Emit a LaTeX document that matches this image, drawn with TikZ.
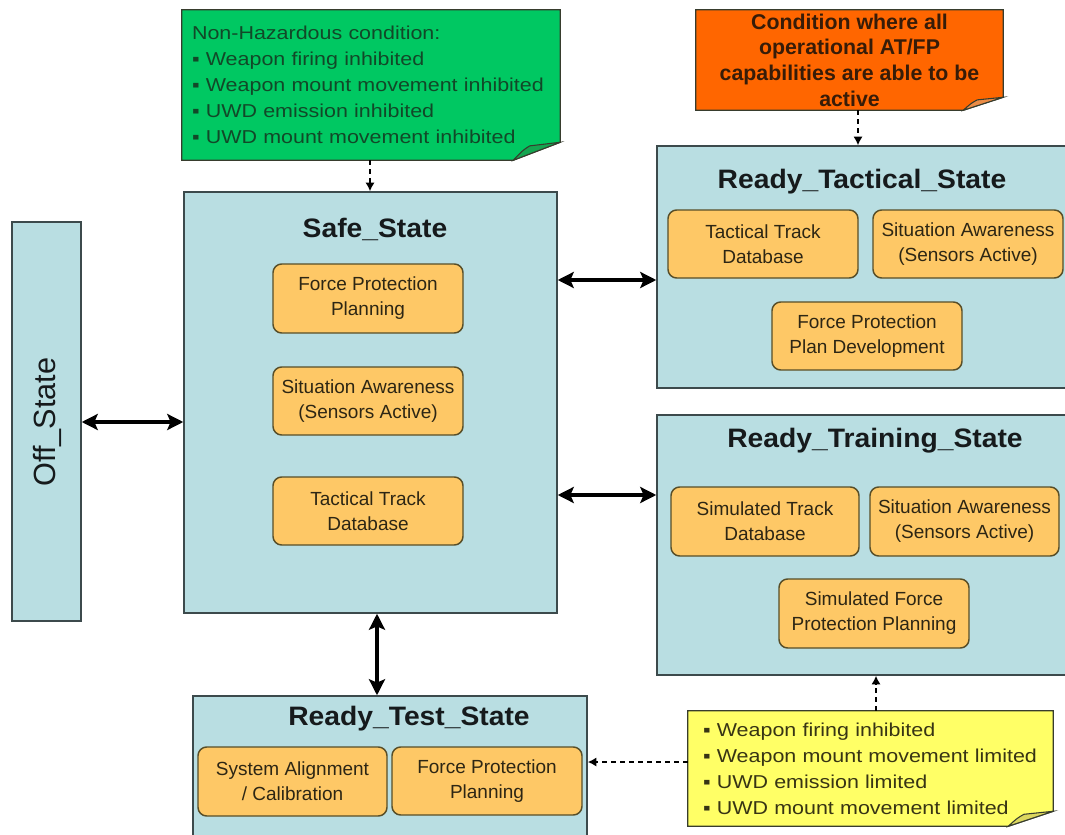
\documentclass[tikz,border=0pt]{standalone}
\usepackage{fontspec}
\setmainfont{Liberation Sans}
\newfontfamily\notefam{Liberation Sans}[FakeStretch=1.15]
\newfontfamily\titlefam{Liberation Sans}[FakeStretch=1.06]
\usetikzlibrary{arrows.meta,backgrounds}
\definecolor{stfill}{RGB}{185,222,226}
\definecolor{stbd}{RGB}{60,74,76}
\definecolor{acfill}{RGB}{254,200,102}
\definecolor{acbd}{RGB}{88,78,40}
\definecolor{actext}{RGB}{45,38,20}
\definecolor{titlec}{RGB}{22,26,28}
\definecolor{notebd}{RGB}{55,60,45}
\definecolor{grfill}{RGB}{0,200,98}
\definecolor{grfold}{RGB}{20,165,80}
\definecolor{grtext}{RGB}{18,72,40}
\definecolor{orfill}{RGB}{255,102,0}
\definecolor{orfold}{RGB}{235,140,70}
\definecolor{ortext}{RGB}{55,28,8}
\definecolor{yefill}{RGB}{255,255,102}
\definecolor{yefold}{RGB}{220,215,95}
\definecolor{yetext}{RGB}{55,52,20}
\def\px{*0.75pt}
\newcommand\notepoly[5]{%
  \filldraw[fill=#2, draw=notebd, line width=0.9pt] (#1.north west) -- (#1.north east) -- ([yshift=#5]#1.south east) -- ([xshift=-#4]#1.south east) -- (#1.south west) -- cycle;
  \filldraw[fill=#3, draw=notebd, line width=0.8pt] ([xshift=-#4]#1.south east) .. controls ([xshift=-0.8*#4, yshift=0.55*#5]#1.south east) .. ([xshift=-0.65*#4, yshift=0.8*#5]#1.south east) -- ([yshift=#5]#1.south east) -- cycle;
}
\begin{document}
\begin{tikzpicture}[x=0.75pt,y=-0.75pt,
  statebox/.style={draw=stbd, fill=stfill, line width=1.1pt, inner sep=0pt},
  actbox/.style={draw=acbd, fill=acfill, line width=1.1pt, rounded corners=6.5pt, align=center, text=actext, inner sep=0pt, font=\fontsize{14.25pt}{18.75pt}\selectfont},
  titletext/.style={font=\titlefam\bfseries\fontsize{20pt}{24pt}\selectfont, anchor=base, text=titlec, inner sep=0pt},
  notetext/.style={inner ysep=0pt, align=left, font=\notefam\fontsize{14pt}{19.5pt}\selectfont},
  biarrow/.style={line width=2.6pt, arrows={Stealth[length=12pt,width=12pt,inset=2.5pt]-Stealth[length=12pt,width=12pt,inset=2.5pt]}},
  notelink/.style={line width=1.3pt, dash pattern=on 3.75pt off 3pt, -{Latex[length=6.5pt,width=7pt]}}
]
\useasboundingbox (0,0) rectangle (1065,835);
\clip (0,0) rectangle (1065,835);

% state boxes
\node[statebox, minimum width=69\px, minimum height=399\px] (off) at (46.5,421.5) {};
\node[statebox, minimum width=373\px, minimum height=421\px] (safe) at (370.5,402.5) {};
\node[statebox, minimum width=420\px, minimum height=242\px] (tac) at (867,267) {};
\node[statebox, minimum width=420\px, minimum height=260\px] (trn) at (867,545) {};
\node[statebox, minimum width=394\px, minimum height=160\px] (tst) at (390,776) {};

% titles
\node[font=\fontsize{23pt}{27pt}\selectfont, rotate=90, text=titlec] (offlbl) at (47,422) {Off\_State};
\node[titletext] (safet) at (375,237) {Safe\_State};
\node[titletext] (tact) at (862,188) {Ready\_Tactical\_State};
\node[titletext] (trnt) at (875,447) {Ready\_Training\_State};
\node[titletext] (tstt) at (409,725) {Ready\_Test\_State};

% activity boxes
\node[actbox, minimum width=190\px, minimum height=69\px] (s1) at (368,298.5) {Force Protection\\Planning};
\node[actbox, minimum width=190\px, minimum height=68\px] (s2) at (368,401) {Situation Awareness\\(Sensors Active)};
\node[actbox, minimum width=190\px, minimum height=68\px] (s3) at (368,511) {Tactical Track\\Database};

\node[actbox, minimum width=190\px, minimum height=68\px] (t1) at (763,244) {Tactical Track\\Database};
\node[actbox, minimum width=190\px, minimum height=68\px] (t2) at (968,244) {Situation Awareness\\(Sensors Active)};
\node[actbox, minimum width=190\px, minimum height=68\px] (t3) at (867,336) {Force Protection\\Plan Development};

\node[actbox, minimum width=188\px, minimum height=69\px] (r1) at (765,521.5) {Simulated Track\\Database};
\node[actbox, minimum width=189\px, minimum height=69\px] (r2) at (964.5,521.5) {Situation Awareness\\(Sensors Active)};
\node[actbox, minimum width=190\px, minimum height=69\px] (r3) at (874,613.5) {Simulated Force\\Protection Planning};

\node[actbox, minimum width=189\px, minimum height=69\px] (e1) at (292.5,781.5) {System Alignment\\/ Calibration};
\node[actbox, minimum width=190\px, minimum height=68\px] (e2) at (487,781) {Force Protection\\Planning};

% notes
\node[notetext, text=grtext, text width=268.5pt, inner xsep=7.5pt, minimum height=150\px] (gn) at (371,85)
  {Non-Hazardous condition:\\▪ Weapon firing inhibited\\▪ Weapon mount movement inhibited\\▪ UWD emission inhibited\\▪ UWD mount movement inhibited};
\node[inner sep=0pt, minimum width=307\px, minimum height=100\px, align=center, text=ortext, font=\bfseries\fontsize{16pt}{19.3pt}\selectfont] (on) at (849.5,60)
  {Condition where all\\operational AT/FP\\capabilities are able to be\\active};
\node[notetext, text=yetext, text width=251.25pt, inner xsep=11.25pt, minimum height=115\px] (yn) at (870.5,768.5)
  {▪ Weapon firing inhibited\\▪ Weapon mount movement limited\\▪ UWD emission limited\\▪ UWD mount movement limited};

\begin{scope}[on background layer]
  \notepoly{gn}{grfill}{grfold}{35.25pt}{13.5pt}
  \notepoly{on}{orfill}{orfold}{30pt}{9.75pt}
  \notepoly{yn}{yefill}{yefold}{33.75pt}{11.25pt}
\end{scope}

% helper coordinates
\coordinate (hst) at (0,280);
\coordinate (hsr) at (0,495);
\coordinate (hse) at (377,0);
\coordinate (hgn) at (370,0);
\coordinate (hon) at (858,0);
\coordinate (hyt) at (876,0);
\coordinate (hye) at (0,762);

% connectors
\draw[biarrow] (off.east |- offlbl.center) -- (safe.west |- offlbl.center);
\draw[biarrow] (safe.east |- hst) -- (tac.west |- hst);
\draw[biarrow] (safe.east |- hsr) -- (trn.west |- hsr);
\draw[biarrow] (safe.south -| hse) -- (tst.north -| hse);

\draw[notelink] (gn.south -| hgn) -- (safe.north -| hgn);
\draw[notelink] (on.south -| hon) -- (tac.north -| hon);
\draw[notelink] (yn.north -| hyt) -- (trn.south -| hyt);
\draw[notelink] (yn.west |- hye) -- (tst.east |- hye);
\end{tikzpicture}
\end{document}
